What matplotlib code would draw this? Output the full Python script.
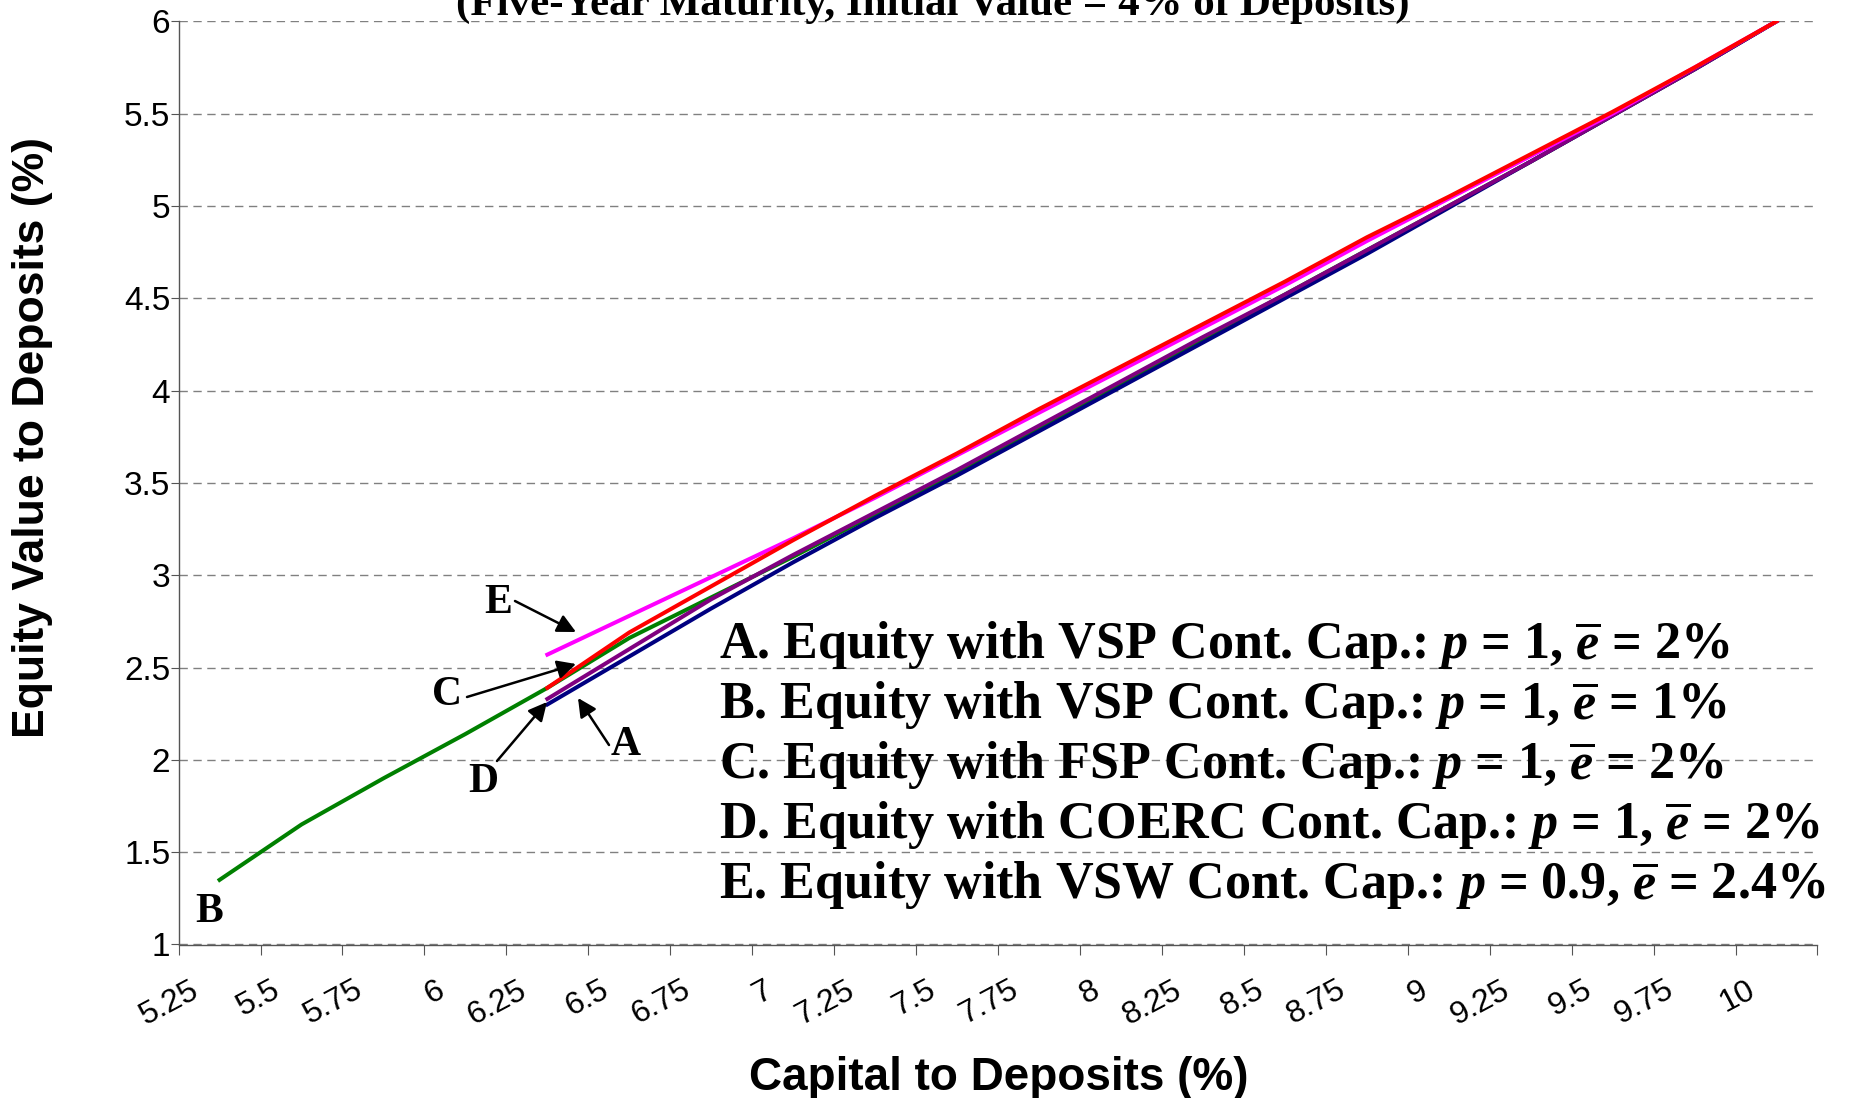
import matplotlib
matplotlib.use("Agg")
import matplotlib.pyplot as plt
import numpy as np
from matplotlib.transforms import ScaledTranslation

plt.rcParams['mathtext.fontset'] = 'custom'
plt.rcParams['mathtext.rm'] = 'Liberation Serif:bold'
plt.rcParams['mathtext.it'] = 'Liberation Serif:italic:bold'
plt.rcParams['mathtext.bf'] = 'Liberation Serif:bold'

# ---- data ----
capital = [5.25, 5.5, 5.75, 6.0, 6.25, 6.5, 6.75, 7.0, 7.25, 7.5, 7.75,
           8.0, 8.25, 8.5, 8.75, 9.0, 9.25, 9.5, 9.75, 10.0]
tick_labels = ['5.25', '5.5', '5.75', '6', '6.25', '6.5', '6.75', '7', '7.25',
               '7.5', '7.75', '8', '8.25', '8.5', '8.75', '9', '9.25', '9.5',
               '9.75', '10']
nan = np.nan
eq_B = [1.35, 1.65, 1.90, 2.14, 2.39, 2.66, 2.88, 3.10, 3.33, 3.56, 3.80,
        4.04, 4.28, 4.52, 4.76, 5.00, 5.24, 5.49, 5.74, 6.00]
eq_A = [nan, nan, nan, nan, 2.30, 2.56, 2.82, 3.07, 3.31, 3.54, 3.78,
        4.02, 4.26, 4.50, 4.74, 4.99, 5.24, 5.49, 5.74, 6.00]
eq_D = [nan, nan, nan, nan, 2.33, 2.60, 2.87, 3.11, 3.34, 3.57, 3.81,
        4.05, 4.29, 4.52, 4.76, 5.00, 5.24, 5.49, 5.74, 6.00]
eq_E = [nan, nan, nan, nan, 2.57, 2.78, 2.99, 3.20, 3.42, 3.65, 3.88,
        4.11, 4.34, 4.57, 4.81, 5.04, 5.27, 5.50, 5.75, 6.00]
eq_C = [nan, nan, nan, nan, 2.39, 2.69, 2.94, 3.19, 3.43, 3.66, 3.90,
        4.13, 4.36, 4.59, 4.83, 5.05, 5.28, 5.51, 5.75, 6.00]

legend_lines = [
    r"A. Equity with VSP Cont. Cap.: $p$ = 1, $\overline{e}$ = 2%",
    r"B. Equity with VSP Cont. Cap.: $p$ = 1, $\overline{e}$ = 1%",
    r"C. Equity with FSP Cont. Cap.: $p$ = 1, $\overline{e}$ = 2%",
    r"D. Equity with COERC Cont. Cap.: $p$ = 1, $\overline{e}$ = 2%",
    r"E. Equity with VSW Cont. Cap.: $p$ = 0.9, $\overline{e}$ = 2.4%",
]

W, H = 1858, 1098
fig = plt.figure(figsize=(W / 100, H / 100), dpi=100)
ax = fig.add_axes([178.6 / W, 1 - 944.5 / H, (1817.5 - 178.6) / W, (944.5 - 21.3) / H])

lw = 2.9
ax.plot(capital, eq_B, color='#008000', lw=lw, zorder=3)
ax.plot(capital, eq_A, color='#000080', lw=lw, zorder=4)
ax.plot(capital, eq_D, color='#800080', lw=lw, zorder=5)
ax.plot(capital, eq_E, color='#FF00FF', lw=lw, zorder=6)
ax.plot(capital, eq_C, color='#FF0000', lw=lw, zorder=7)

ax.set_xlim(5.125, 10.125)
ax.set_ylim(1, 6)
ax.set_yticks(np.arange(1, 6.01, 0.5))
ax.set_yticklabels(['1', '1.5', '2', '2.5', '3', '3.5', '4', '4.5', '5', '5.5', '6'],
                   fontfamily='Liberation Sans', fontsize=24)
ax.yaxis.grid(True, color='#808080', linestyle=(0, (6, 4)), lw=1.0)
ax.set_axisbelow(True)

ax.set_xticks(np.arange(5.125, 10.126, 0.25))
ax.set_xticklabels([])
ax.set_xticks(capital, minor=True)
ax.set_xticklabels(tick_labels, minor=True, fontfamily='Liberation Sans', fontsize=23,
                   rotation=28, ha='right', va='top')
ax.tick_params(axis='x', which='major', length=7, direction='out', color='#555555')
ax.tick_params(axis='x', which='minor', length=0, pad=22)
ax.tick_params(axis='y', length=6, direction='out', color='#555555', pad=0)
offset = ScaledTranslation(-0.16, 0, fig.dpi_scale_trans)
for lab in ax.get_xticklabels(minor=True):
    lab.set_transform(lab.get_transform() + offset)

for s in ['top', 'right']:
    ax.spines[s].set_visible(False)
for s in ['left', 'bottom']:
    ax.spines[s].set_color('#555555')
    ax.spines[s].set_linewidth(1.0)

ax.set_ylabel('Equity Value to Deposits (%)', fontfamily='Liberation Sans',
              fontweight='bold', fontsize=32)
ax.yaxis.set_label_coords(33 / W, 1 - 438 / H, transform=fig.transFigure)
ax.yaxis.label.set_va('center')
ax.set_xlabel('Capital to Deposits (%)', fontfamily='Liberation Sans',
              fontweight='bold', fontsize=33)
ax.xaxis.set_label_coords(999 / W, 1 - 1078 / H, transform=fig.transFigure)
ax.xaxis.label.set_va('center')

fig.text(933 / W, 1 - 15 / H, '(Five-Year Maturity, Initial Value = 4% of Deposits)',
         ha='center', va='baseline', fontfamily='Liberation Serif',
         fontweight='bold', fontsize=31)

# legend text block
for i, t in enumerate(legend_lines):
    fig.text(719 / W, 1 - (646 + 60 * i) / H, t, ha='left', va='center',
             fontfamily='Liberation Serif', fontweight='bold', fontsize=37.5)

# letter annotations with arrows (figure pixel coords, from top)
def pix(x, y):
    return (x / W, 1 - y / H)

ann = [
    ('E', (498, 603), (515, 601), (576, 632)),
    ('C', (447, 695), (467, 697), (576, 664)),
    ('D', (483, 782), (497, 761), (547, 702)),
    ('A', (626, 745), (609, 745), (578, 698)),
]
for lab, pos, tail, tip in ann:
    fig.text(*pix(*pos), lab, ha='center', va='center', fontfamily='Liberation Serif',
             fontweight='bold', fontsize=30)
    ax.annotate('', xy=pix(*tip), xytext=pix(*tail), xycoords='figure fraction',
                textcoords='figure fraction',
                arrowprops=dict(arrowstyle='-|>', color='black', lw=1.8,
                                mutation_scale=28, shrinkA=0, shrinkB=0), zorder=10)
fig.text(*pix(209, 912), 'B', ha='center', va='center', fontfamily='Liberation Serif',
         fontweight='bold', fontsize=30)

fig.savefig('out.png', dpi=100)
